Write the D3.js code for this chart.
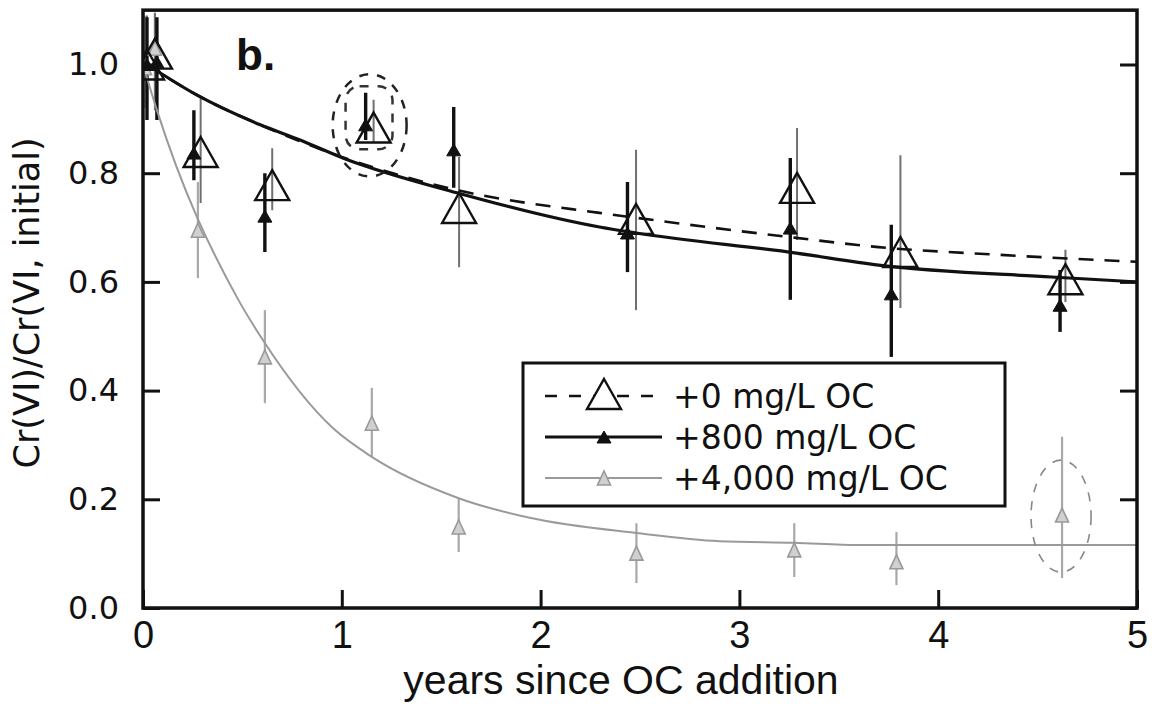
<!DOCTYPE html>
<html>
<head>
<meta charset="utf-8">
<script src="https://cdn.jsdelivr.net/npm/d3@7"></script>
<style>
  body { margin: 0; background: #fff; }
</style>
</head>
<body>
<div id="chart"></div>
<script>
// tick values
const xTicks = [0, 1, 2, 3, 4, 5]
const yTicks = [0, 0.2, 0.4, 0.6, 0.8, 1.0]
const seriesNames = ['+0 mg/L OC', '+800 mg/L OC', '+4,000 mg/L OC']

// measured points: t = years, v = Cr(VI)/Cr(VI, initial), lo/hi = error bar ends
const oc0 = [
  {t: 0.02, v: 1.00, lo: 0.92, hi: 1.09},
  {t: 0.06, v: 1.02, lo: 0.916, hi: 1.095},
  {t: 0.29, v: 0.839, lo: 0.745, hi: 0.94},
  {t: 0.65, v: 0.778, lo: 0.732, hi: 0.846},
  {t: 1.16, v: 0.884, lo: 0.856, hi: 0.935},
  {t: 1.59, v: 0.736, lo: 0.627, hi: 0.83},
  {t: 2.48, v: 0.716, lo: 0.548, hi: 0.843},
  {t: 3.29, v: 0.773, lo: 0.677, hi: 0.883},
  {t: 3.81, v: 0.655, lo: 0.552, hi: 0.833},
  {t: 4.64, v: 0.605, lo: 0.563, hi: 0.659}
]
const oc800 = [
  {t: 0.02, v: 1.00, lo: 0.898, hi: 1.087},
  {t: 0.07, v: 1.005, lo: 0.898, hi: 1.087},
  {t: 0.256, v: 0.837, lo: 0.787, hi: 0.916},
  {t: 0.613, v: 0.721, lo: 0.655, hi: 0.80},
  {t: 1.12, v: 0.889, lo: 0.861, hi: 0.948},
  {t: 1.563, v: 0.843, lo: 0.773, hi: 0.922},
  {t: 2.437, v: 0.69, lo: 0.618, hi: 0.784},
  {t: 3.256, v: 0.699, lo: 0.567, hi: 0.828},
  {t: 3.764, v: 0.578, lo: 0.462, hi: 0.705},
  {t: 4.613, v: 0.557, lo: 0.508, hi: 0.622}
]
const oc4000 = [
  {t: 0.01, v: 0.994, lo: 0.92, hi: 1.09},
  {t: 0.06, v: 1.03, lo: 0.95, hi: 1.095},
  {t: 0.276, v: 0.695, lo: 0.607, hi: 0.784},
  {t: 0.613, v: 0.462, lo: 0.377, hi: 0.548},
  {t: 1.151, v: 0.34, lo: 0.278, hi: 0.405},
  {t: 1.588, v: 0.149, lo: 0.103, hi: 0.202},
  {t: 2.482, v: 0.101, lo: 0.046, hi: 0.156},
  {t: 3.276, v: 0.107, lo: 0.057, hi: 0.156},
  {t: 3.79, v: 0.085, lo: 0.042, hi: 0.14},
  {t: 4.623, v: 0.171, lo: 0.055, hi: 0.315}
]

// model curves
const fit0 = [[0.02, 1.0], [0.27, 0.944], [0.59, 0.889], [1.0, 0.83], [1.578, 0.769], [2.296, 0.727],
  [2.48, 0.718], [3.286, 0.681], [3.7, 0.664], [4.3, 0.65], [5.0, 0.637]]
const fit800 = [[0.02, 1.0], [0.27, 0.944], [0.59, 0.889], [0.79, 0.861], [1.005, 0.828], [1.578, 0.764],
  [2.296, 0.701], [2.48, 0.69], [3.286, 0.653], [3.7, 0.631], [4.57, 0.609], [5.0, 0.6]]
const fit4000 = [[0.0, 1.0], [0.07, 0.916], [0.472, 0.572], [0.603, 0.493], [0.955, 0.331], [1.151, 0.278],
  [1.588, 0.202], [1.945, 0.166], [2.482, 0.138], [2.9, 0.123], [3.276, 0.12], [3.6, 0.116], [5.0, 0.116]]

// dashed call-out rings (data units)
const callouts = [
  {t: 1.14, v: 0.888, rt: 0.186, rv: 0.094, color: '#222', width: 2.5, shape: 'ellipse'},
  {t: 1.137, v: 0.902, rt: 0.118, rv: 0.058, color: '#333', width: 2.5, shape: 'rect'},
  {t: 4.618, v: 0.169, rt: 0.151, rv: 0.103, color: '#888', width: 1.6, shape: 'ellipse'}
]

const width = 1152
const height = 708

const svg = d3.select('#chart').append('svg')
  .attr('width', width)
  .attr('height', height)

const x = d3.scaleLinear().domain([0, 5]).range([143, 1137])
const y = d3.scaleLinear().domain([0, 1.1]).range([608, 10.15])

svg.append('clipPath').attr('id', 'plotClip')
  .append('rect')
  .attr('x', x(0)).attr('y', y(1.1))
  .attr('width', x(5) - x(0)).attr('height', y(0) - y(1.1))

const plot = svg.append('g').attr('clip-path', 'url(#plotClip)')

const triangle = (cx, cy, w, h) =>
  `M${cx},${cy - h / 2}L${cx + w / 2},${cy + h / 2}L${cx - w / 2},${cy + h / 2}Z`

const styles = [
  {data: oc4000, fit: fit4000, bar: '#a8a8a8', barW: 2.2, line: '#9a9a9a', lineW: 2, dash: null,
    mw: 13, mh: 14, fill: '#d0d0d0', stroke: '#999', strokeW: 1.6},
  {data: oc0, fit: fit0, bar: '#707070', barW: 2, line: '#111', lineW: 2.6, dash: '15,11',
    mw: 34, mh: 30, fill: 'none', stroke: '#111', strokeW: 2.4},
  {data: oc800, fit: fit800, bar: '#111', barW: 3.4, line: '#111', lineW: 3.2, dash: null,
    mw: 14, mh: 12, fill: '#111', stroke: '#111', strokeW: 1}
]

const line = d3.line()
  .x(d => x(d[0]))
  .y(d => y(d[1]))
  .curve(d3.curveMonotoneX)

// error bars first
styles.forEach(s => {
  plot.selectAll(null).data(s.data)
    .enter()
    .append('line')
      .attr('x1', d => x(d.t))
      .attr('x2', d => x(d.t))
      .attr('y1', d => y(d.lo))
      .attr('y2', d => y(d.hi))
      .attr('stroke', s.bar)
      .attr('stroke-width', s.barW)
})

// fit curves
styles.forEach(s => {
  plot.append('path')
    .datum(s.fit)
    .attr('d', line)
    .attr('fill', 'none')
    .attr('stroke', s.line)
    .attr('stroke-width', s.lineW)
    .attr('stroke-dasharray', s.dash)
})

// markers
styles.forEach(s => {
  plot.selectAll(null).data(s.data)
    .enter()
    .append('path')
      .attr('d', d => triangle(x(d.t), y(d.v), s.mw, s.mh))
      .attr('fill', s.fill)
      .attr('stroke', s.stroke)
      .attr('stroke-width', s.strokeW)
      .attr('stroke-linejoin', 'miter')
})

// call-outs
callouts.forEach(c => {
  const rx = x(c.t + c.rt) - x(c.t)
  const ry = y(c.v - c.rv) - y(c.v)
  if (c.shape === 'ellipse') {
    plot.append('ellipse')
      .attr('cx', x(c.t)).attr('cy', y(c.v))
      .attr('rx', rx).attr('ry', ry)
      .attr('fill', 'none')
      .attr('stroke', c.color)
      .attr('stroke-width', c.width)
      .attr('stroke-dasharray', '9,9')
  } else {
    plot.append('rect')
      .attr('x', x(c.t) - rx).attr('y', y(c.v) - ry)
      .attr('width', 2 * rx).attr('height', 2 * ry)
      .attr('rx', 14)
      .attr('fill', 'none')
      .attr('stroke', c.color)
      .attr('stroke-width', c.width)
      .attr('stroke-dasharray', '9,9')
  }
})

// axes
const yAxis = svg.append('g')
  .attr('transform', `translate(${x(0)},0)`)
  .call(d3.axisLeft(y).tickValues(yTicks).tickSize(-17).tickPadding(24).tickFormat(d3.format('.1f')))
yAxis.select('.domain').remove()
yAxis.selectAll('line').attr('stroke', '#111').attr('stroke-width', 3)
yAxis.selectAll('text')
  .attr('font-family', '"DejaVu Sans", Verdana, sans-serif')
  .attr('font-size', 32)
  .attr('fill', '#111')

const yAxisRight = svg.append('g')
  .attr('transform', `translate(${x(5)},0)`)
  .call(d3.axisRight(y).tickValues(yTicks).tickSize(-17).tickFormat(''))
yAxisRight.select('.domain').remove()
yAxisRight.selectAll('line').attr('stroke', '#111').attr('stroke-width', 3)

const xAxis = svg.append('g')
  .attr('transform', `translate(0,${y(0)})`)
  .call(d3.axisBottom(x).tickValues(xTicks).tickSize(-18).tickPadding(13).tickFormat(d3.format('d')))
xAxis.select('.domain').remove()
xAxis.selectAll('line').attr('stroke', '#111').attr('stroke-width', 3)
xAxis.selectAll('text')
  .attr('font-family', '"Liberation Sans", Arial, sans-serif')
  .attr('font-size', 38)
  .attr('fill', '#111')

// frame
svg.append('rect')
  .attr('x', x(0)).attr('y', y(1.1))
  .attr('width', x(5) - x(0)).attr('height', y(0) - y(1.1))
  .attr('fill', 'none')
  .attr('stroke', '#111')
  .attr('stroke-width', 3.5)

// axis titles
svg.append('text')
  .attr('x', 621)
  .attr('y', 694)
  .attr('text-anchor', 'middle')
  .attr('font-family', '"Liberation Sans", Arial, sans-serif')
  .attr('font-size', 41)
  .attr('fill', '#111')
  .text('years since OC addition')

svg.append('text')
  .attr('transform', 'translate(39,303) rotate(-90)')
  .attr('text-anchor', 'middle')
  .attr('font-family', '"DejaVu Sans", Verdana, sans-serif')
  .attr('font-size', 35)
  .attr('fill', '#111')
  .text('Cr(VI)/Cr(VI, initial)')

svg.append('text')
  .attr('x', 236)
  .attr('y', 70)
  .attr('font-family', '"Liberation Sans", Arial, sans-serif')
  .attr('font-weight', 'bold')
  .attr('font-size', 44)
  .attr('fill', '#111')
  .text('b.')

// legend
const legend = svg.append('g')
legend.append('rect')
  .attr('x', 523).attr('y', 363)
  .attr('width', 482).attr('height', 143)
  .attr('fill', '#fff')
  .attr('stroke', '#111')
  .attr('stroke-width', 3)

const legendOrder = [styles[1], styles[2], styles[0]]
legendOrder.forEach((s, i) => {
  const ly = 396 + i * 41
  legend.append('line')
    .attr('x1', 545).attr('x2', 662)
    .attr('y1', ly).attr('y2', ly)
    .attr('stroke', s.line)
    .attr('stroke-width', s.lineW)
    .attr('stroke-dasharray', s.dash ? '12,12' : null)
  legend.append('path')
    .attr('d', triangle(604, ly - (s.mh > 20 ? 2 : 0), s.mw, s.mh))
    .attr('fill', s.fill === 'none' ? '#fff' : s.fill)
    .attr('stroke', s.stroke)
    .attr('stroke-width', s.strokeW)
  legend.append('text')
    .attr('x', 673)
    .attr('y', ly + 12)
    .attr('font-family', '"DejaVu Sans", Verdana, sans-serif')
    .attr('font-size', 33)
    .attr('fill', '#111')
    .text(seriesNames[i])
})
</script>
</body>
</html>
